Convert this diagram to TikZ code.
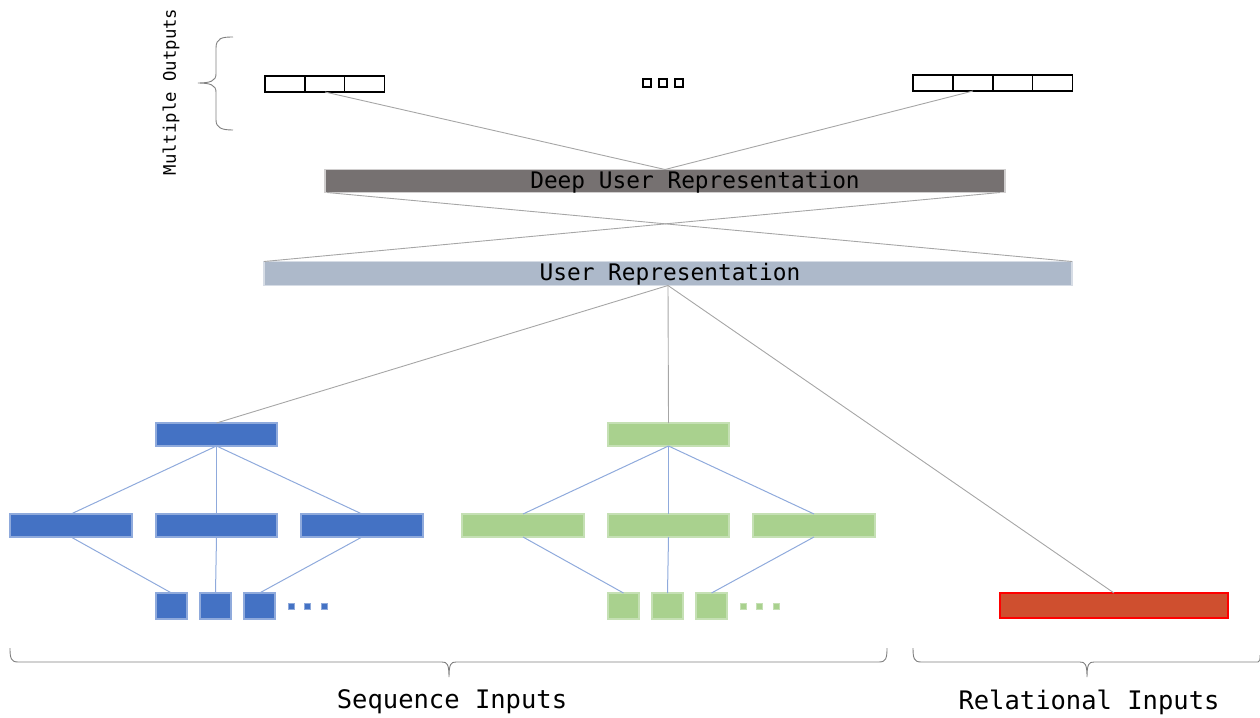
\documentclass[tikz,border=0pt]{standalone}
\usepackage{fontspec}
\newfontfamily\monof{DejaVu Sans Mono}
\definecolor{cblue}{HTML}{4472C4}
\definecolor{cblueb}{HTML}{8FAADC}
\definecolor{cgreen}{HTML}{A9D18E}
\definecolor{cgreenb}{HTML}{C5E0B4}
\definecolor{cdeep}{HTML}{767171}
\definecolor{cdeepb}{HTML}{D0CECE}
\definecolor{cuser}{HTML}{ADB9CA}
\definecolor{cuserb}{HTML}{D6DCE5}
\definecolor{cred}{HTML}{CF4F2F}
\definecolor{cline}{HTML}{A6A6A6}
\definecolor{cbrace}{HTML}{7F7F7F}
\tikzset{
  box/.style={rectangle, inner sep=0pt, outer sep=0pt, line width=1.5pt},
  bbox/.style={box, fill=cblue, draw=cblueb},
  gbox/.style={box, fill=cgreen, draw=cgreenb},
  cell/.style={box, draw=black, line width=1.2pt, fill=white, minimum width=40, minimum height=16},
  tiny/.style={box, draw=black, line width=1.5pt, minimum width=8, minimum height=8},
  conn/.style={draw=cline, line width=0.9pt},
  bconn/.style={draw=cblueb, line width=1pt},
  bracep/.style={draw=cbrace, line width=0.9pt},
}
\begin{document}
\begin{tikzpicture}[x=1pt,y=-1pt]
\useasboundingbox (0,0) rectangle (1260,717);
% outputs
\node[cell] (o1a) at (285,84) {};
\node[cell] (o1b) at (325,84) {};
\node[cell] (o1c) at (364.5,84) {};
\node[tiny] (d1) at (647,83) {};
\node[tiny] (d2) at (663,83) {};
\node[tiny] (d3) at (679,83) {};
\node[cell] (o2a) at (933,83) {};
\node[cell] (o2b) at (973,83) {};
\node[cell] (o2c) at (1013,83) {};
\node[cell] (o2d) at (1052.5,83) {};
% brace multiple outputs
\draw[bracep] (233,37) .. controls (222,37) and (216,38) .. (216,48) -- (216,74) .. controls (216,81) and (210,83) .. (198,83) .. controls (210,83) and (216,85) .. (216,92) -- (216,120) .. controls (216,128) and (222,130) .. (233,130);
\node[rotate=90, font=\monof\fontsize{17.3}{20}\selectfont] (mo) at (171,92) {Multiple Outputs};
% deep & user
\node[box, fill=cdeep, draw=cdeepb, minimum width=680, minimum height=23] (deep) at (665,181) {};
\node[font=\monof\fontsize{22.8}{26}\selectfont] (deept) at (695,182) {Deep User Representation};
\node[box, fill=cuser, draw=cuserb, minimum width=808, minimum height=24] (user) at (668,273.5) {};
\node[font=\monof\fontsize{22.8}{26}\selectfont] (usert) at (670,274.5) {User Representation};
\draw[conn] (o1b.south) -- (deep.north);
\draw[conn] (o2b.south) -- (deep.north);
\coordinate (dsw) at ([xshift=2pt]deep.south west);
\coordinate (dse) at ([xshift=-5pt]deep.south east);
\draw[conn] (dsw) -- (user.north east);
\draw[conn] (dse) -- (user.north west);
% blue tree
\node[bbox, minimum width=121, minimum height=23] (b0) at (216.5,434.5) {};
\node[bbox, minimum width=122, minimum height=23] (b1) at (71,525.5) {};
\node[bbox, minimum width=121, minimum height=23] (b2) at (216.5,525.5) {};
\node[bbox, minimum width=122, minimum height=23] (b3) at (362,525.5) {};
\node[bbox, minimum width=31, minimum height=26] (bs1) at (171.5,606) {};
\node[bbox, minimum width=31, minimum height=26] (bs2) at (215.5,606) {};
\node[bbox, minimum width=31, minimum height=26] (bs3) at (259.5,606) {};
\node[bbox, minimum width=6, minimum height=6] (bd1) at (291.5,606.5) {};
\node[bbox, minimum width=6, minimum height=6] (bd2) at (307.5,606.5) {};
\node[bbox, minimum width=6, minimum height=6] (bd3) at (324.5,606.5) {};
\draw[bconn] (b0.south) -- (b1.north);
\draw[bconn] (b0.south) -- (b2.north);
\draw[bconn] (b0.south) -- (b3.north);
\draw[bconn] (b1.south) -- (bs1.north);
\draw[bconn] (b2.south) -- (bs2.north);
\draw[bconn] (b3.south) -- (bs3.north);
% green tree
\node[gbox, minimum width=121, minimum height=23] (g0) at (668.5,434.5) {};
\node[gbox, minimum width=122, minimum height=23] (g1) at (523,525.5) {};
\node[gbox, minimum width=121, minimum height=23] (g2) at (668.5,525.5) {};
\node[gbox, minimum width=122, minimum height=23] (g3) at (814,525.5) {};
\node[gbox, minimum width=31, minimum height=26] (gs1) at (623.5,606) {};
\node[gbox, minimum width=31, minimum height=26] (gs2) at (667.5,606) {};
\node[gbox, minimum width=31, minimum height=26] (gs3) at (711.5,606) {};
\node[gbox, minimum width=6, minimum height=6] (gd1) at (743.5,606.5) {};
\node[gbox, minimum width=6, minimum height=6] (gd2) at (759.5,606.5) {};
\node[gbox, minimum width=6, minimum height=6] (gd3) at (776.5,606.5) {};
\draw[bconn] (g0.south) -- (g1.north);
\draw[bconn] (g0.south) -- (g2.north);
\draw[bconn] (g0.south) -- (g3.north);
\draw[bconn] (g1.south) -- (gs1.north);
\draw[bconn] (g2.south) -- (gs2.north);
\draw[bconn] (g3.south) -- (gs3.north);
% red
\node[box, fill=cred, draw=red, line width=1.2pt, minimum width=228, minimum height=25] (rel) at (1114,605.5) {};
% connections from user
\draw[conn] (user.south) -- (b0.north);
\draw[conn] (user.south) -- (g0.north);
\draw[conn] (user.south) -- (rel.north);
% bottom braces
\draw[bracep] (10,648) .. controls (10,658) and (11,662) .. (18,662) -- (442,662) .. controls (447,662) and (449,664) .. (449,677) .. controls (449,664) and (451,662) .. (456,662) -- (879,662) .. controls (886,662) and (887,658) .. (887,648);
\draw[bracep] (913,648) .. controls (913,658) and (914,662) .. (921,662) -- (1080,662) .. controls (1085,662) and (1087,664) .. (1087,677) .. controls (1087,664) and (1089,662) .. (1094,662) -- (1258,662) .. controls (1260,662) and (1260,660) .. (1260,655);
\node[font=\monof\fontsize{25.5}{28}\selectfont] (seq) at (452,702) {Sequence Inputs};
\node[font=\monof\fontsize{25.5}{28}\selectfont] (relt) at (1089,702) {Relational Inputs};
\end{tikzpicture}
\end{document}
